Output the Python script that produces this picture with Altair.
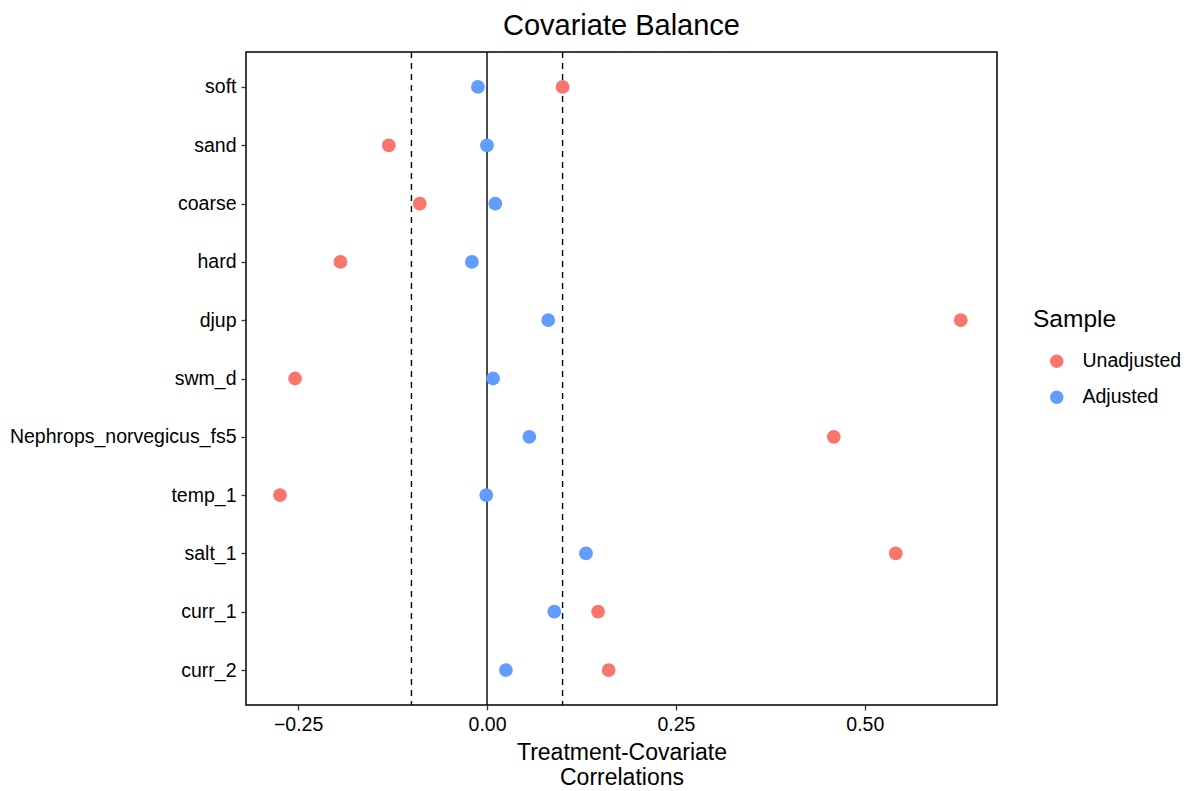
import altair as alt
import pandas as pd

covariates = ["soft", "sand", "coarse", "hard", "djup", "swm_d",
              "Nephrops_norvegicus_fs5", "temp_1", "salt_1", "curr_1", "curr_2"]
unadjusted = [0.100, -0.130, -0.089, -0.194, 0.627, -0.254, 0.459, -0.274, 0.541, 0.147, 0.161]
adjusted = [-0.012, 0.000, 0.011, -0.020, 0.081, 0.008, 0.056, -0.001, 0.131, 0.089, 0.025]
samples = ["Unadjusted", "Adjusted"]
colors = ["#F8766D", "#619CFF"]
thresholds = [-0.1, 0.1]
x_ticks = [-0.25, 0.0, 0.25, 0.5]

rows = []
for c, u, a in zip(covariates, unadjusted, adjusted):
    rows.append({"covariate": c, "Sample": "Unadjusted", "value": u})
    rows.append({"covariate": c, "Sample": "Adjusted", "value": a})
df = pd.DataFrame(rows)

xscale = alt.Scale(domain=[-0.319, 0.675], nice=False, zero=False)

zero_rule = alt.Chart(pd.DataFrame({"v": [0.0]})).mark_rule(
    color="black", strokeWidth=1.4
).encode(x=alt.X("v:Q", scale=xscale))

dash_rules = alt.Chart(pd.DataFrame({"v": thresholds})).mark_rule(
    color="black", strokeWidth=1.4, strokeDash=[6, 5]
).encode(x=alt.X("v:Q", scale=xscale))

points = alt.Chart(df).mark_circle(size=190, opacity=1).encode(
    x=alt.X("value:Q", scale=xscale,
            axis=alt.Axis(values=x_ticks, format=".2f",
                          title=["Treatment-Covariate", "Correlations"])),
    y=alt.Y("covariate:N", sort=covariates,
            scale=alt.Scale(type="point", padding=0.6),
            axis=alt.Axis(title=None, labelLimit=400)),
    color=alt.Color("Sample:N",
                    scale=alt.Scale(domain=samples, range=colors),
                    legend=alt.Legend(title="Sample", orient="none",
                                      legendX=787, legendY=256,
                                      symbolType="circle", symbolSize=180,
                                      symbolOffset=14, labelOffset=16,
                                      rowPadding=15, titlePadding=19,
                                      padding=0)),
)

chart = alt.layer(zero_rule, dash_rules, points).properties(
    width=751, height=653,
    title=alt.Title("Covariate Balance", fontSize=29, font="Liberation Sans",
                    fontWeight="normal", color="black", anchor="middle",
                    offset=10),
    autosize=alt.AutoSizeParams(type="none"),
    padding={"left": 246, "top": 52, "right": 193, "bottom": 86},
).configure_view(
    stroke="black", strokeWidth=1.5
).configure_axis(
    domain=False, grid=False,
    labelFont="Liberation Sans", labelFontSize=19.5, labelColor="black",
    tickColor="#333", tickSize=5, tickWidth=1.3, labelPadding=5,
    titleFont="Liberation Sans", titleFontSize=23, titleFontWeight="normal",
    titleColor="black", titlePadding=8, titleLineHeight=25
).configure_legend(
    titleFont="Liberation Sans", titleFontSize=24.5, titleFontWeight="normal",
    titleColor="black",
    labelFont="Liberation Sans", labelFontSize=19.5, labelColor="black"
)

chart.save("out.html", embed_options={"renderer": "svg", "actions": False})
